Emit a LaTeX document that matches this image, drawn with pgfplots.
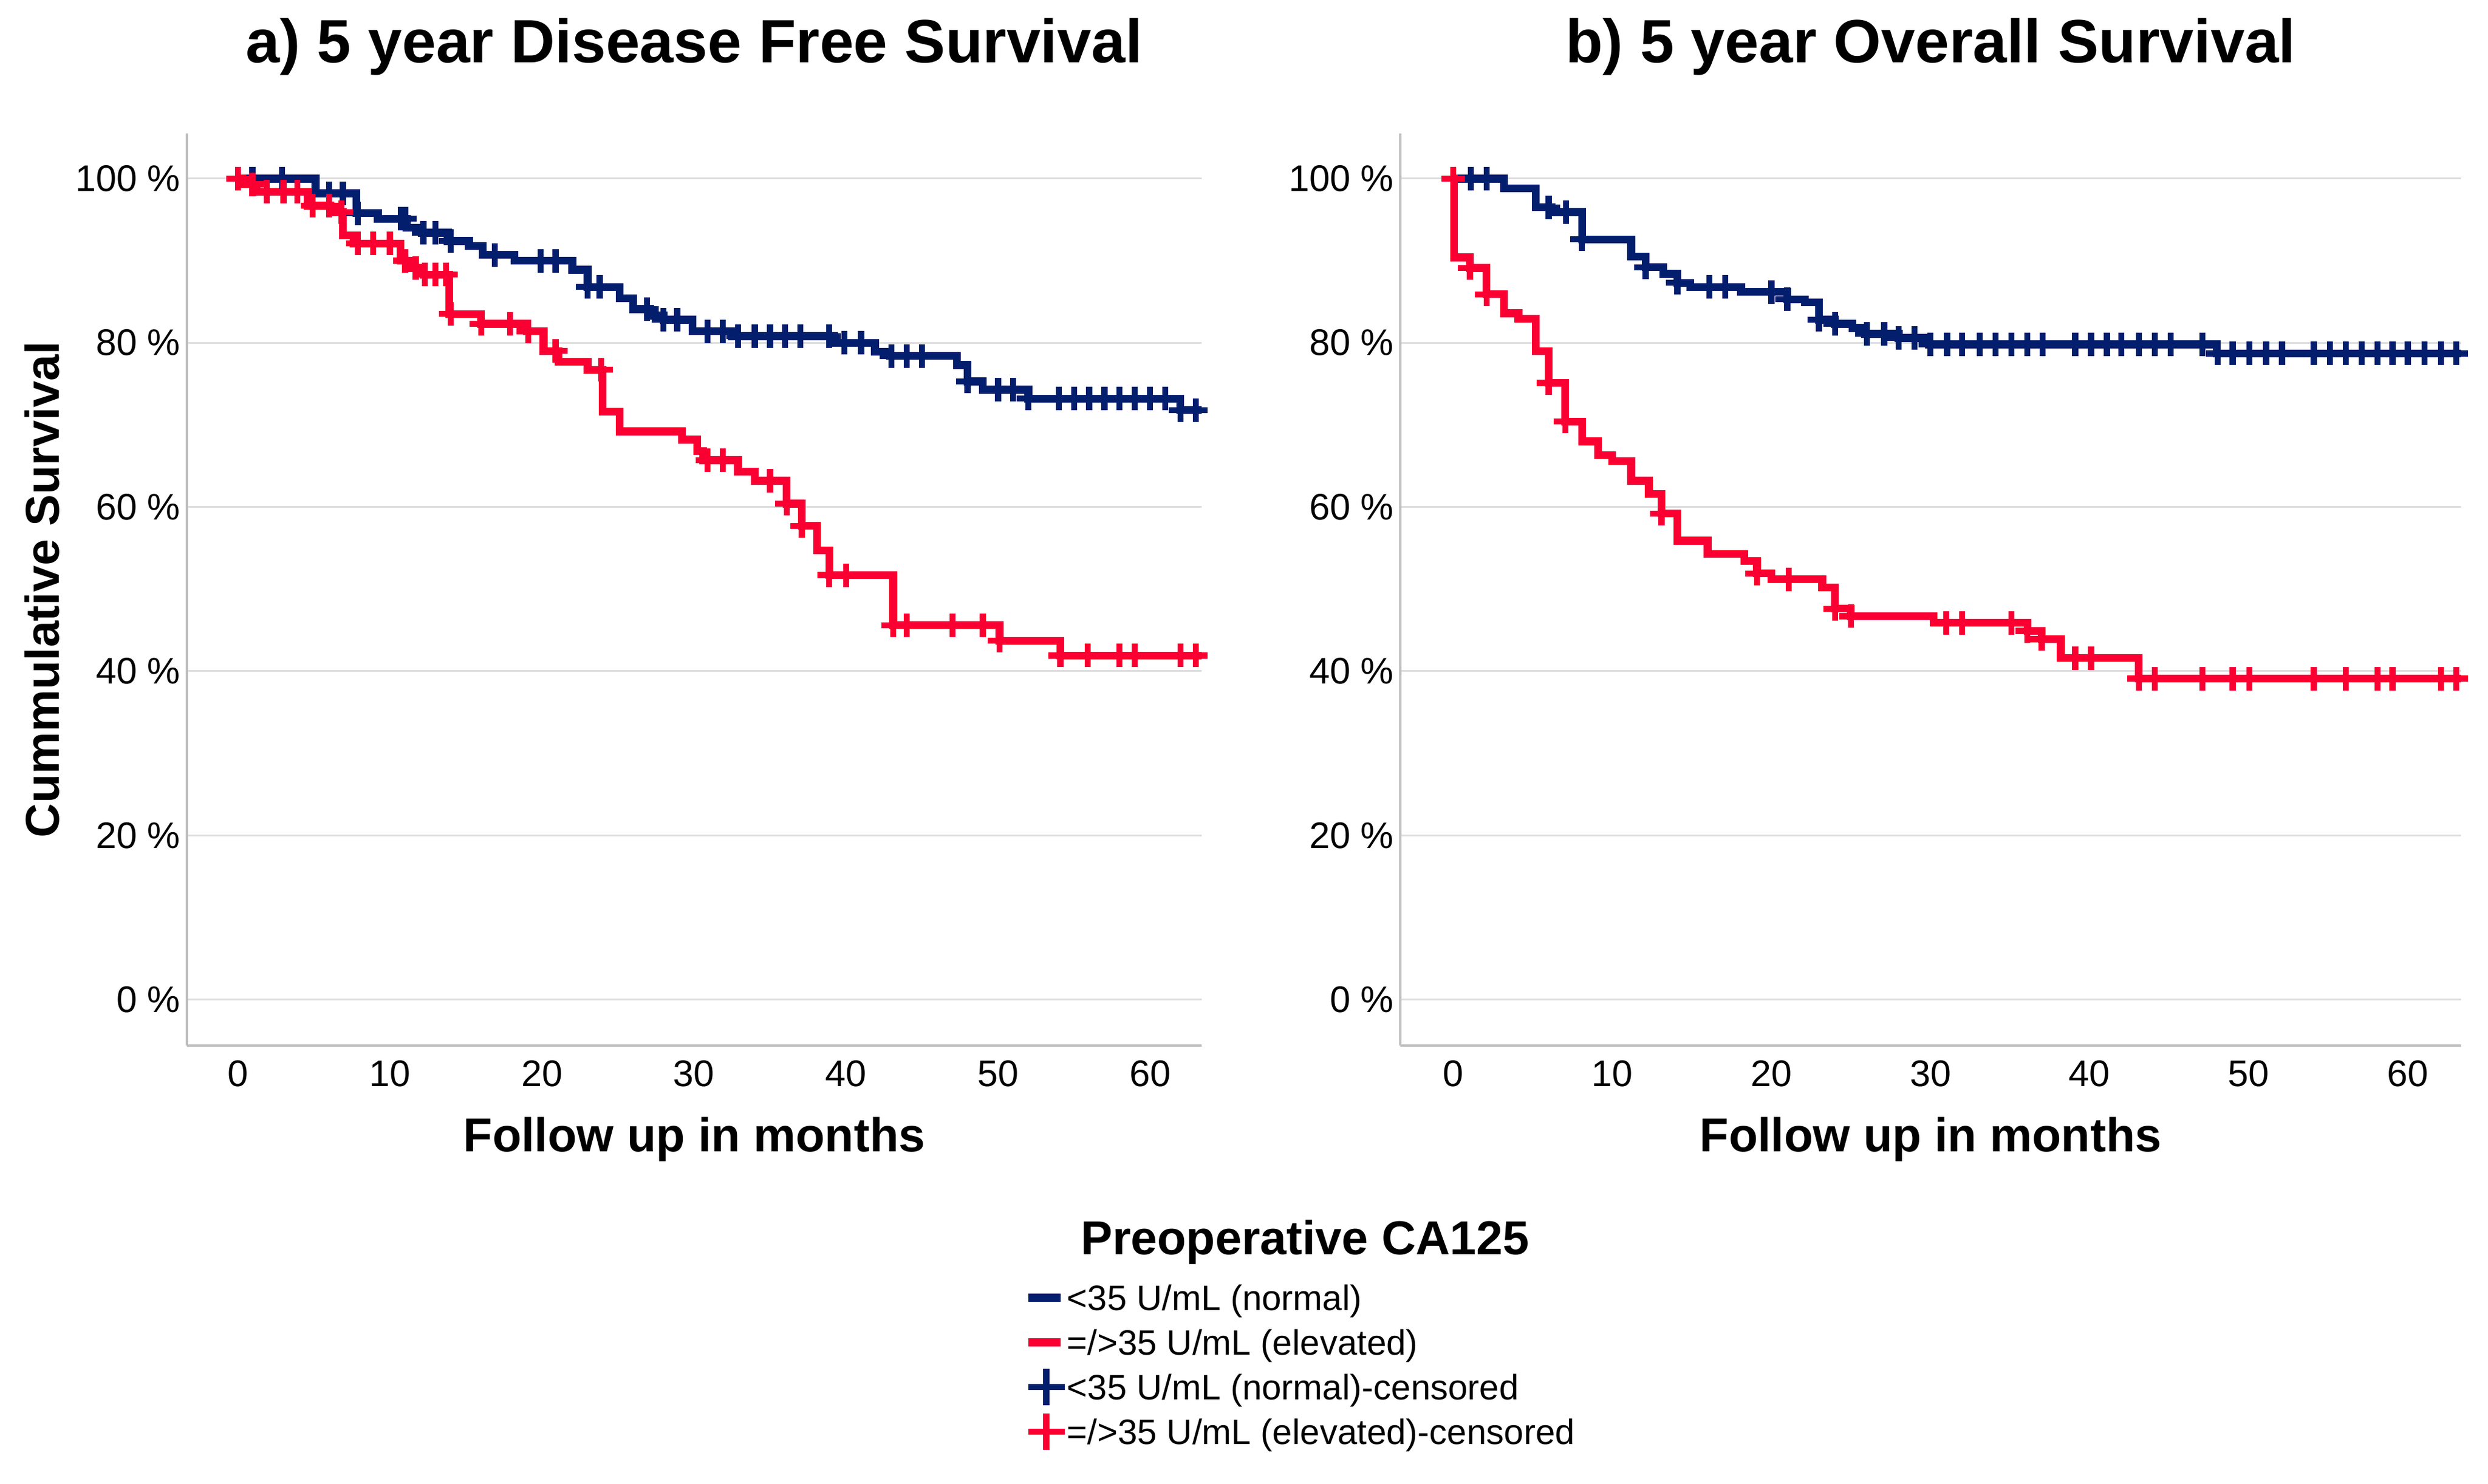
\documentclass[border=0pt]{standalone}
\usepackage{fontspec}
\setmainfont{Liberation Sans}
\usepackage{pgfplots}
\pgfplotsset{compat=1.18}

\definecolor{kmblue}{RGB}{4,30,110}
\definecolor{kmred}{RGB}{250,0,50}
\definecolor{gridgray}{RGB}{221,221,221}
\definecolor{axisgray}{RGB}{190,190,190}

% 1 px of the reference = 0.06 mm
\pgfplotsset{
  km/.style={
    scale only axis, anchor=south west, height=93.12mm,
    ymin=-5.61, ymax=105.5,
    axis lines*=left,
    axis line style={draw=axisgray, line width=0.24mm},
    major tick length=0pt,
    ymajorgrids, grid style={draw=gridgray, line width=0.18mm},
    xtick={0,10,20,30,40,50,60}, xticklabels={0,10,20,30,40,50,60},
    ytick={0,20,40,60,80,100},
    yticklabels={0 \%,20 \%,40 \%,60 \%,80 \%,100 \%},
    tick label style={font=\fontsize{10.76}{12}\selectfont, inner sep=0pt},
    yticklabel style={anchor=east, xshift=-0.6mm},
    xticklabel style={anchor=north, yshift=-1.44mm},
    title style={at={(0.5,1)}, anchor=base, yshift=5.1mm, inner sep=0pt,
      font=\fontsize{17.75}{20}\selectfont\bfseries},
    xlabel style={at={(0.5,0)}, anchor=base, yshift=-10.8mm, inner sep=0pt,
      font=\fontsize{13.8}{16}\selectfont\bfseries},
    xlabel={Follow up in months},
  },
  kmline/.style={const plot, line width=0.8mm, line join=miter, mark=none},
  kmcens/.style={only marks, mark=+, mark size=1.2mm, mark options={line width=0.62mm}},
  legline/.style={legend image code/.code={\draw[line width=0.8mm] (0mm,0mm) -- (3.3mm,0mm);}},
  legcens/.style={legend image code/.code={\draw[mark=+, mark size=1.86mm, mark options={line width=0.62mm}] plot coordinates {(1.86mm,0mm)};}},
}

\begin{document}
\begin{tikzpicture}
\path[use as bounding box] (0,0) rectangle (254.04mm,-151.44mm);

% a) disease free survival
\begin{axis}[km, at={(19.08mm,-106.74mm)}, width=103.62mm,
  xmin=-3.36, xmax=63.4,
  title={a) 5 year Disease Free Survival},
  ylabel={Cummulative Survival},
  ylabel style={at={(0,0.5)}, anchor=base, yshift=13.08mm, inner sep=0pt,
    font=\fontsize{13.8}{16}\selectfont\bfseries},
  legend cell align=left,
  legend style={at={(0.8251,-0.2519)}, anchor=north west, draw=none, fill=none,
    inner sep=0pt, outer sep=0pt, column sep=0.24mm, row sep=0pt,
    nodes={inner sep=0pt, text height=3.57mm, text depth=0.99mm,
      font=\fontsize{10.25}{12}\selectfont}},
]
\addplot[kmline, kmblue, legline] coordinates {
  (0,100)(5.1,98.2)(7.8,95.8)(9.2,95.1)(11.1,94.0)(12.1,93.4)(13.8,92.4)(15.2,91.8)
  (16.1,90.7)(18.2,90.0)(22.0,88.9)(23.0,86.8)(25.1,85.4)(26.0,84.1)(27.1,83.3)
  (28.0,82.8)(29.9,81.4)(32.5,80.8)(39.2,80.0)(41.9,78.9)(42.9,78.4)(47.3,77.3)
  (48.0,75.3)(49.0,74.3)(52.0,73.2)(62.0,71.8)(63.4,71.8)};
\addlegendentry{<35 U/mL (normal)}
\addplot[kmline, kmred, legline] coordinates {
  (0,100)(0.3,99.3)(1.2,98.4)(4.6,96.7)(6.1,95.9)(6.9,93.1)(7.6,92.1)(10.7,90.0)
  (11.4,89.1)(12.2,88.3)(13.9,83.5)(16.0,82.3)(19.0,81.4)(20.1,79.0)(21.1,77.7)
  (23.0,76.7)(24.0,71.6)(25.1,69.2)(29.2,68.2)(30.2,66.8)(30.6,65.7)(32.9,64.3)
  (34.0,63.2)(36.1,60.4)(37.1,57.7)(38.1,54.7)(38.9,51.7)(43.1,45.6)(50.1,43.7)
  (54.1,41.9)(63.4,41.9)};
\addlegendentry{=/>35 U/mL (elevated)}
\addplot[kmcens, kmblue, legcens] coordinates {
  (0.95,100)(2.9,100)(6.0,98.2)(6.9,98.2)(7.9,95.8)(10.7,95.1)(11.0,95.1)(12.2,93.4)
  (13.0,93.4)(14.0,92.4)(16.9,90.7)(19.9,90.0)(20.9,90.0)(23.0,86.8)(23.8,86.8)
  (26.9,84.1)(28.0,82.8)(28.9,82.8)(30.9,81.4)(31.9,81.4)(32.9,80.8)(34,80.8)
  (35,80.8)(36,80.8)(37,80.8)(38.9,80.8)(39.9,80.0)(41.0,80.0)(43,78.4)(44,78.4)
  (45,78.4)(48,75.3)(50,74.3)(51,74.3)(52,73.2)(54,73.2)(55,73.2)(56,73.2)(57,73.2)
  (58,73.2)(59,73.2)(60,73.2)(61,73.2)(62,71.8)(63,71.8)};
\addlegendentry{<35 U/mL (normal)-censored}
\addplot[kmcens, kmred, legcens] coordinates {
  (0,100)(0.95,99.3)(1.9,98.4)(3.0,98.4)(3.9,98.4)(4.9,96.7)(6.0,96.7)(6.8,95.9)
  (7.9,92.1)(8.9,92.1)(10.0,92.1)(11.0,90.0)(11.7,89.1)(12.3,88.3)(13.0,88.3)
  (13.7,88.3)(14.0,83.5)(16.0,82.3)(17.9,82.3)(19.1,81.4)(20.9,79.0)(23.9,76.7)
  (30.9,65.7)(31.9,65.7)(35.0,63.2)(36.1,60.4)(37.1,57.7)(38.9,51.7)(40.0,51.7)
  (43.1,45.6)(44.0,45.6)(47.0,45.6)(49.0,45.6)(50.1,43.7)(54.1,41.9)(55.9,41.9)
  (58.0,41.9)(59.0,41.9)(62.0,41.9)(63.0,41.9)};
\addlegendentry{=/>35 U/mL (elevated)-censored}
\end{axis}

% b) overall survival
\begin{axis}[km, at={(142.98mm,-106.74mm)}, width=108.30mm,
  xmin=-3.32, xmax=63.35,
  title={b) 5 year Overall Survival},
]
\addplot[kmline, kmblue] coordinates {
  (0,100)(3.2,98.8)(5.2,96.5)(6.2,95.9)(8.1,92.6)(11.2,90.5)(12.1,89.2)(13.2,88.4)
  (14.1,87.3)(14.9,86.8)(18.1,86.2)(21.0,85.3)(22.1,84.9)(23.0,82.8)(24.0,82.3)
  (25.1,81.8)(25.9,81.1)(28.0,80.6)(29.9,79.8)(48.0,78.7)(63.35,78.7)};
\addplot[kmline, kmred] coordinates {
  (0,100)(0.05,90.4)(1.05,89.1)(2.1,85.9)(3.2,83.6)(4.1,82.9)(5.2,79.0)(6.0,75.1)
  (7.05,70.4)(8.1,68.0)(9.1,66.3)(10.0,65.6)(11.2,63.2)(12.3,61.6)(13.1,59.2)
  (14.1,55.9)(16.0,54.3)(18.3,53.4)(19.1,51.9)(20.0,51.2)(23.2,50.2)(24.0,47.6)
  (25.0,46.7)(30.2,45.9)(36.1,44.9)(37.0,43.9)(38.2,41.6)(43.1,39.1)(63.35,39.1)};
\addplot[kmcens, kmblue] coordinates {
  (1.1,100)(2.1,100)(6.0,96.5)(7.1,95.9)(8.1,92.6)(12.1,89.2)(14.1,87.3)(16.1,86.8)
  (17.1,86.8)(20.0,86.2)(21.0,85.3)(23.0,82.8)(24.0,82.3)(26.0,81.1)(27.1,81.1)
  (28.0,80.6)(29.0,80.6)(30.0,79.8)(31.05,79.8)(32,79.8)(33.1,79.8)(34.1,79.8)
  (35.1,79.8)(36.1,79.8)(37.05,79.8)(39.1,79.8)(40.1,79.8)(41.1,79.8)(42,79.8)
  (43.1,79.8)(44.1,79.8)(45.1,79.8)(47.1,79.8)(48.05,78.7)(49,78.7)(50.05,78.7)
  (51.1,78.7)(52.1,78.7)(54.1,78.7)(55.1,78.7)(56.1,78.7)(57.1,78.7)(58.1,78.7)
  (59.05,78.7)(60,78.7)(61.05,78.7)(62.1,78.7)(63.05,78.7)};
\addplot[kmcens, kmred] coordinates {
  (0,100)(1.05,89.1)(2.1,85.9)(6.0,75.1)(7.05,70.4)(13.1,59.2)(19.1,51.9)(21.1,51.2)
  (24.0,47.6)(25.0,46.7)(31.0,45.9)(32.0,45.9)(35.1,45.9)(36.1,44.9)(37.0,43.9)
  (39.1,41.6)(40.1,41.6)(43.1,39.1)(44.1,39.1)(47.1,39.1)(49.0,39.1)(50.05,39.1)
  (54.1,39.1)(56.1,39.1)(58.1,39.1)(59.05,39.1)(62.1,39.1)(63.05,39.1)};
\end{axis}

\node[anchor=base, inner sep=0pt, font=\fontsize{13.8}{16}\selectfont\bfseries]
  at (133.26mm,-128.04mm) {Preoperative CA125};
\end{tikzpicture}
\end{document}
